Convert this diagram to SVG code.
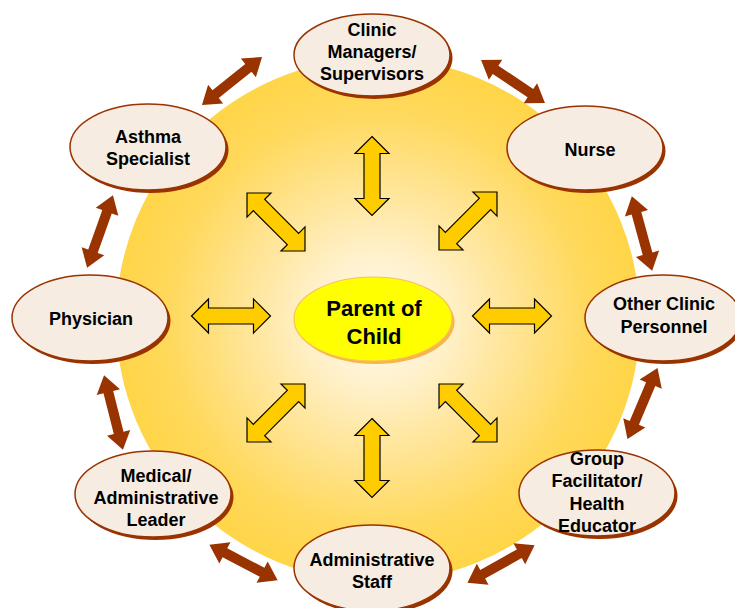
<svg xmlns="http://www.w3.org/2000/svg" width="735" height="608" viewBox="0 0 735 608">
  <style>
    .lbl { font-family: "Liberation Sans", Arial, sans-serif; font-weight: bold; font-size: 18px; fill: #000; text-anchor: middle; }
    .big { font-size: 22px; }
    .node-shadow { fill: #993300; }
    .node { fill: #F6ECE2; stroke: #993300; stroke-width: 1.5; }
    .brown { fill: #993300; }
    .gold { fill: #FFCC00; stroke: #000; stroke-width: 1.2; stroke-linejoin: miter; }
  </style>
  <defs>
    <radialGradient id="sunFill" cx="378" cy="320" r="262" gradientUnits="userSpaceOnUse">
      <stop offset="0" stop-color="#FFFAF0"/>
      <stop offset="0.25" stop-color="#FFF1CC"/>
      <stop offset="0.55" stop-color="#FFE38F"/>
      <stop offset="0.8" stop-color="#FFD95C"/>
      <stop offset="1" stop-color="#FFD548"/>
    </radialGradient>
    <!-- double-headed block arrow along the x axis, centred on the origin -->
    <path id="brownArrow" d="M -38.5 0 L -21 -12 L -21 -5 L 21 -5 L 21 -12 L 38.5 0 L 21 12 L 21 5 L -21 5 L -21 12 Z"/>
    <path id="goldArrow" d="M -39.5 0 L -22.5 -17 L -22.5 -8 L 22.5 -8 L 22.5 -17 L 39.5 0 L 22.5 17 L 22.5 8 L -22.5 8 L -22.5 17 Z"/>
    <path id="goldArrowDiag" d="M -41 0 L -24 -17 L -24 -8 L 24 -8 L 24 -17 L 41 0 L 24 17 L 24 8 L -24 8 L -24 17 Z"/>
  </defs>

  <rect width="735" height="608" fill="#FFFFFF"/>

  <!-- background sun -->
  <circle cx="378" cy="320" r="262" fill="url(#sunFill)"/>

  <!-- connectors -->
  <g id="connectors">
    <!-- ring links between neighbouring roles -->
    <use href="#brownArrow" class="brown" transform="translate(232 81) rotate(-38.7)"/>
    <use href="#brownArrow" class="brown" transform="translate(513 81.5) rotate(33.9)"/>
    <use href="#brownArrow" class="brown" transform="translate(642 233.5) rotate(74.7)"/>
    <use href="#brownArrow" class="brown" transform="translate(642.5 403.5) rotate(113)"/>
    <use href="#brownArrow" class="brown" transform="translate(501 564) rotate(150.8)"/>
    <use href="#brownArrow" class="brown" transform="translate(243.5 562.5) rotate(27.6)"/>
    <use href="#brownArrow" class="brown" transform="translate(113.5 412.5) rotate(75.8)"/>
    <use href="#brownArrow" class="brown" transform="translate(100 231.5) rotate(109.6)"/>
    <!-- spokes to the centre -->
    <use href="#goldArrow" class="gold" transform="translate(372 176) rotate(90)"/>
    <use href="#goldArrow" class="gold" transform="translate(372 458) rotate(90)"/>
    <use href="#goldArrow" class="gold" transform="translate(231 316)"/>
    <use href="#goldArrow" class="gold" transform="translate(512 316)"/>
    <use href="#goldArrowDiag" class="gold" transform="translate(276 222) rotate(45)"/>
    <use href="#goldArrowDiag" class="gold" transform="translate(468 221) rotate(-45)"/>
    <use href="#goldArrowDiag" class="gold" transform="translate(276 413) rotate(-45)"/>
    <use href="#goldArrowDiag" class="gold" transform="translate(468 413) rotate(45)"/>
  </g>

  <!-- centre node -->
  <g id="parent">
    <ellipse cx="375.5" cy="322" rx="79" ry="42" fill="#F5B547"/>
    <ellipse cx="373" cy="319" rx="79" ry="42" fill="#FFFF00" stroke="#F7C25A" stroke-width="1.2"/>
    <text class="lbl big" x="374" y="316">Parent of</text>
    <text class="lbl big" x="374" y="344">Child</text>
  </g>

  <g id="clinic-managers">
    <ellipse class="node-shadow" cx="374.5" cy="58" rx="78" ry="41"/>
    <ellipse class="node" cx="372" cy="55" rx="78" ry="41"/>
    <text class="lbl" x="372" y="36">Clinic</text>
    <text class="lbl" x="372" y="58">Managers/</text>
    <text class="lbl" x="372" y="80">Supervisors</text>
  </g>

  <g id="nurse">
    <ellipse class="node-shadow" cx="587.5" cy="151" rx="78" ry="42"/>
    <ellipse class="node" cx="585" cy="148" rx="78" ry="42"/>
    <text class="lbl" x="590" y="156">Nurse</text>
  </g>

  <g id="other-clinic-personnel">
    <ellipse class="node-shadow" cx="665.5" cy="321" rx="78" ry="43"/>
    <ellipse class="node" cx="663" cy="318" rx="78" ry="43"/>
    <text class="lbl" x="664" y="310">Other Clinic</text>
    <text class="lbl" x="664" y="333">Personnel</text>
  </g>

  <g id="group-facilitator">
    <ellipse class="node-shadow" cx="599.5" cy="496" rx="78" ry="43"/>
    <ellipse class="node" cx="597" cy="493" rx="78" ry="43"/>
    <text class="lbl" x="597" y="465">Group</text>
    <text class="lbl" x="597" y="487">Facilitator/</text>
    <text class="lbl" x="597" y="510">Health</text>
    <text class="lbl" x="597" y="532">Educator</text>
  </g>

  <g id="administrative-staff">
    <ellipse class="node-shadow" cx="374.5" cy="571" rx="78" ry="43"/>
    <ellipse class="node" cx="372" cy="568" rx="78" ry="43"/>
    <text class="lbl" x="372" y="566">Administrative</text>
    <text class="lbl" x="372" y="588">Staff</text>
  </g>

  <g id="medical-leader">
    <ellipse class="node-shadow" cx="155.5" cy="497" rx="78" ry="43"/>
    <ellipse class="node" cx="153" cy="494" rx="78" ry="43"/>
    <text class="lbl" x="156" y="482">Medical/</text>
    <text class="lbl" x="156" y="504">Administrative</text>
    <text class="lbl" x="156" y="526">Leader</text>
  </g>

  <g id="physician">
    <ellipse class="node-shadow" cx="92.5" cy="321" rx="78" ry="43"/>
    <ellipse class="node" cx="90" cy="318" rx="78" ry="43"/>
    <text class="lbl" x="91" y="325">Physician</text>
  </g>

  <g id="asthma-specialist">
    <ellipse class="node-shadow" cx="150.5" cy="150" rx="78" ry="43"/>
    <ellipse class="node" cx="148" cy="147" rx="78" ry="43"/>
    <text class="lbl" x="148" y="143">Asthma</text>
    <text class="lbl" x="148" y="165">Specialist</text>
  </g>
</svg>
